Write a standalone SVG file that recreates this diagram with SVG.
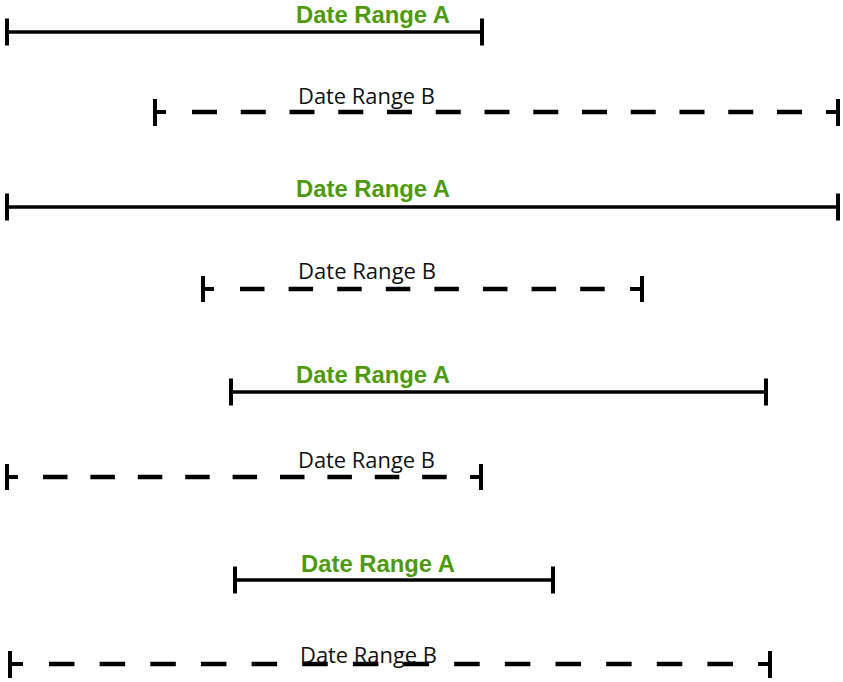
<svg xmlns="http://www.w3.org/2000/svg" width="843" height="682" viewBox="0 0 843 682">
  <style>
    .bg { fill: #ffffff; }
    .solid { stroke: #000; stroke-width: 3.5; fill: none; }
    .tick { stroke: #000; stroke-width: 4; fill: none; }
    .dash { stroke: #000; stroke-width: 4.5; fill: none; }
    .labelA { font-family: "Liberation Sans", Arial, sans-serif; font-weight: bold; font-size: 23px; fill: #4e9a0e; }
    .labelB { font-family: "Open Sans", "DejaVu Sans", sans-serif; font-size: 21px; fill: #111; }
  </style>
  <rect class="bg" x="0" y="0" width="843" height="682"/>

  <!-- Case 1: A ends inside B -->
  <g id="range-a-1">
    <path class="solid" d="M7 32 H482"/>
    <path class="tick" d="M7 18.5 V45.5 M482 18.5 V45.5"/>
    <text class="labelA" x="296" y="23" textLength="154" lengthAdjust="spacingAndGlyphs">Date Range A</text>
  </g>
  <g id="range-b-1">
    <path class="dash" d="M192 112 H802" stroke-dasharray="25 23.75"/>
    <path class="tick" d="M155 99 V126 M155 112 H166 M838 99 V126 M838 112 H826"/>
    <text class="labelB" x="298" y="104" textLength="137" lengthAdjust="spacingAndGlyphs">Date Range B</text>
  </g>

  <!-- Case 2: A contains B -->
  <g id="range-a-2">
    <path class="solid" d="M7 207 H838"/>
    <path class="tick" d="M7 193.5 V220.5 M838 193.5 V220.5"/>
    <text class="labelA" x="296" y="197" textLength="154" lengthAdjust="spacingAndGlyphs">Date Range A</text>
  </g>
  <g id="range-b-2">
    <path class="dash" d="M240 289 H605" stroke-dasharray="24.5 24.1"/>
    <path class="tick" d="M203 276 V302 M203 289 H214 M642 276 V302 M642 289 H630"/>
    <text class="labelB" x="298" y="279" textLength="138" lengthAdjust="spacingAndGlyphs">Date Range B</text>
  </g>

  <!-- Case 3: A starts inside B -->
  <g id="range-a-3">
    <path class="solid" d="M231 392 H766"/>
    <path class="tick" d="M231 378.5 V405.5 M766 378.5 V405.5"/>
    <text class="labelA" x="296" y="383" textLength="154" lengthAdjust="spacingAndGlyphs">Date Range A</text>
  </g>
  <g id="range-b-3">
    <path class="dash" d="M43 477 H447" stroke-dasharray="24.5 22.9"/>
    <path class="tick" d="M7 464 V490 M7 477 H18 M481 464 V490 M481 477 H470"/>
    <text class="labelB" x="298" y="468" textLength="137" lengthAdjust="spacingAndGlyphs">Date Range B</text>
  </g>

  <!-- Case 4: B contains A -->
  <g id="range-a-4">
    <path class="solid" d="M235 580 H553"/>
    <path class="tick" d="M235 566.5 V593.5 M553 566.5 V593.5"/>
    <text class="labelA" x="301" y="572" textLength="154" lengthAdjust="spacingAndGlyphs">Date Range A</text>
  </g>
  <g id="range-b-4">
    <path class="dash" d="M49 664 H733" stroke-dasharray="25.5 25.15"/>
    <path class="tick" d="M10 651 V678 M10 664 H23 M770 651 V678 M770 664 H758"/>
    <text class="labelB" x="300" y="663" font-size="23" textLength="137" lengthAdjust="spacingAndGlyphs">Date Range B</text>
  </g>
</svg>
